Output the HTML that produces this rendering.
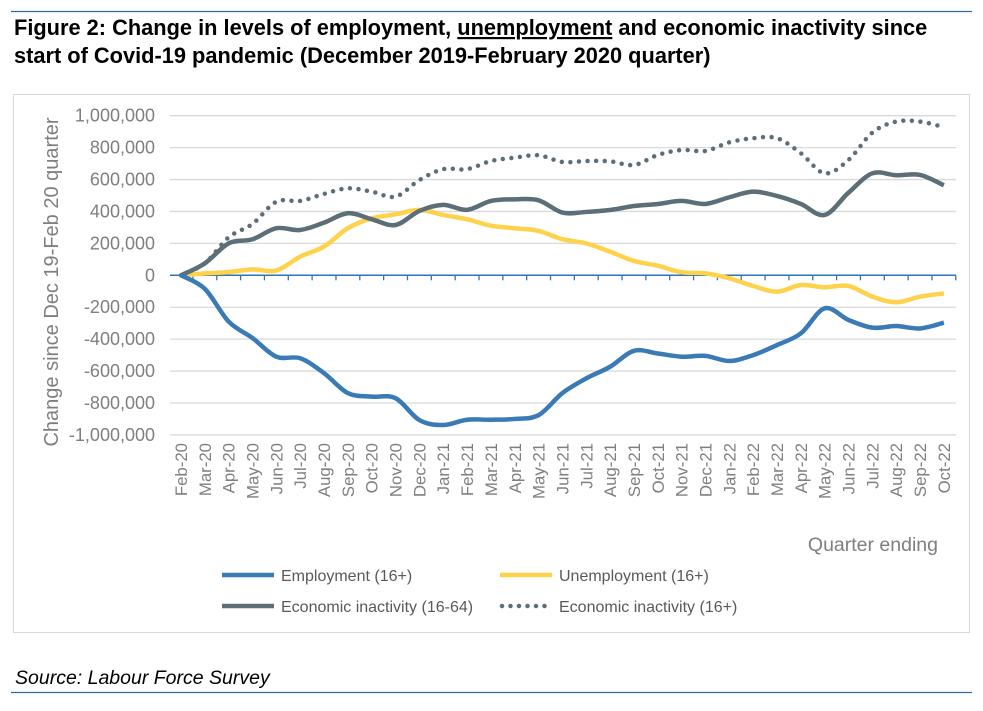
<!DOCTYPE html>
<html><head><meta charset="utf-8"><style>
body{margin:0;background:#fff;width:983px;height:706px;overflow:hidden;font-family:"Liberation Sans",Arial,sans-serif}
</style></head><body>
<svg width="983" height="706" viewBox="0 0 983 706" xmlns="http://www.w3.org/2000/svg">
<line x1="11" y1="11.5" x2="972" y2="11.5" stroke="#2e6da4" stroke-width="1.3"/>
<text x="14" y="35" font-size="21.8" font-weight="bold" fill="#000">Figure 2: Change in levels of employment, <tspan text-decoration="underline" style="text-decoration:underline dotted #5a4fd0">unemployment</tspan> and economic inactivity since</text>
<text x="14" y="63" font-size="21.8" font-weight="bold" fill="#000">start of Covid-19 pandemic (December 2019-February 2020 quarter)</text>
<rect x="13.5" y="94.5" width="956" height="538" fill="#fff" stroke="#d9d9d9"/>
<g id="grid"></g>
<g id="ylabels"></g>
<text transform="translate(58,282) rotate(-90)" text-anchor="middle" font-size="20" fill="#7f7f7f">Change since Dec 19-Feb 20 quarter</text>
<g id="xaxis"></g>
<g id="series"></g>
<text x="938" y="551" text-anchor="end" font-size="19.5" fill="#7f7f7f">Quarter ending</text>
<g>
<g><line x1="222" y1="575" x2="274" y2="575" stroke="#3a7ab5" stroke-width="4.5"/><text x="281" y="581" font-size="16" fill="#595959">Employment (16+)</text></g>
<g><line x1="500" y1="575" x2="552" y2="575" stroke="#ffd24c" stroke-width="4.5"/><text x="559" y="581" font-size="16" fill="#595959">Unemployment (16+)</text></g>
<g><line x1="222" y1="606" x2="274" y2="606" stroke="#5c6e78" stroke-width="4.5"/><text x="281" y="612" font-size="16" fill="#595959">Economic inactivity (16-64)</text></g>
<g><line x1="502" y1="606" x2="552" y2="606" stroke="#5c6e78" stroke-width="4.5" stroke-dasharray="0 8.5" stroke-linecap="round"/><text x="559" y="612" font-size="16" fill="#595959">Economic inactivity (16+)</text></g>
</g>
<text x="15" y="684" font-size="19.5" font-style="italic" fill="#000">Source: Labour Force Survey</text>
<line x1="11" y1="692.5" x2="972" y2="692.5" stroke="#2e6da4" stroke-width="1.3"/>
</svg>
<script>
const categories=["Feb-20","Mar-20","Apr-20","May-20","Jun-20","Jul-20","Aug-20","Sep-20","Oct-20","Nov-20","Dec-20","Jan-21","Feb-21","Mar-21","Apr-21","May-21","Jun-21","Jul-21","Aug-21","Sep-21","Oct-21","Nov-21","Dec-21","Jan-22","Feb-22","Mar-22","Apr-22","May-22","Jun-22","Jul-22","Aug-22","Sep-22","Oct-22"];
const employment=[0,-85000,-290000,-393000,-510000,-520000,-613000,-738000,-760000,-770000,-907000,-938000,-905000,-905000,-900000,-876000,-738000,-646000,-573000,-473000,-490000,-510000,-505000,-537000,-500000,-437000,-364000,-207000,-280000,-328000,-318000,-333000,-297000];
const unemployment=[0,12000,20000,37000,30000,117000,180000,295000,357000,382000,410000,378000,351000,311000,295000,278000,226000,200000,148000,90000,60000,19000,12000,-19000,-67000,-103000,-61000,-75000,-67000,-134000,-169000,-134000,-113000];
const inactivity1664=[0,75000,200000,226000,295000,284000,330000,389000,351000,315000,403000,441000,410000,466000,476000,470000,393000,397000,409000,434000,447000,466000,447000,489000,524000,497000,447000,378000,518000,639000,627000,629000,564000];
const inactivity16plus=[0,75000,238000,322000,461000,466000,510000,545000,524000,493000,597000,665000,665000,716000,737000,752000,710000,716000,714000,691000,754000,785000,779000,833000,859000,859000,765000,639000,723000,894000,963000,963000,928000];
const yTicks=[1000000,800000,600000,400000,200000,0,-200000,-400000,-600000,-800000,-1000000];
const NS="http://www.w3.org/2000/svg";
const x0=181,dx=23.84,y0=275.3,ppu=159.6/1e6;
function xs(i){return x0+i*dx;}
function ys(v){return y0-v*ppu;}
function mk(t,a,p){const e=document.createElementNS(NS,t);for(const k in a)e.setAttribute(k,a[k]);p.appendChild(e);return e;}
const grid=document.getElementById('grid'),yl=document.getElementById('ylabels');
yTicks.forEach(v=>{
 if(v!==0){const g=mk('line',{x1:170,x2:956,y1:ys(v),y2:ys(v),stroke:'#d9d9d9','stroke-width':1.3},grid);
 
 }
 const t=mk('text',{x:155,y:ys(v)+6,'text-anchor':'end','font-size':18,fill:'#7f7f7f'},yl);
 t.textContent=v.toLocaleString('en-US');
 
 
});
const xa=document.getElementById('xaxis');
categories.forEach((c,i)=>{
 const tk=mk('line',{x1:xs(i)+dx/2,x2:xs(i)+dx/2,y1:y0,y2:y0+5,stroke:'#2e75b6','stroke-width':1.3},xa);
 
 
 const t=mk('text',{transform:`translate(${xs(i)+6},443) rotate(-90)`,'text-anchor':'end','font-size':16.8,fill:'#7f7f7f'},xa);
 t.textContent=c;
 
 
});
const zl=mk('line',{x1:170,x2:956,y1:y0,y2:y0,stroke:'#2e75b6','stroke-width':1.5},xa);


function path(vals){
 const p=vals.map((v,i)=>[xs(i),ys(v)]);let d=`M${p[0][0]},${p[0][1]}`;
 for(let i=0;i<p.length-1;i++){const a=p[i-1]||p[i],b=p[i],c=p[i+1],e=p[i+2]||c;const k=1/6;
 d+=` C${b[0]+(c[0]-a[0])*k},${b[1]+(c[1]-a[1])*k} ${c[0]-(e[0]-b[0])*k},${c[1]-(e[1]-b[1])*k} ${c[0]},${c[1]}`;}
 return d;}
const sg=document.getElementById('series');
const l1=mk('path',{d:path(inactivity16plus),fill:'none',stroke:'#5c6e78','stroke-width':4.5,'stroke-dasharray':'0 8.6','stroke-linecap':'round'},sg);


const l2=mk('path',{d:path(unemployment),fill:'none',stroke:'#ffd24c','stroke-width':4.5},sg);


const l3=mk('path',{d:path(inactivity1664),fill:'none',stroke:'#5c6e78','stroke-width':4.5},sg);


const l4=mk('path',{d:path(employment),fill:'none',stroke:'#3a7ab5','stroke-width':4.5},sg);


</script>
</body></html>
